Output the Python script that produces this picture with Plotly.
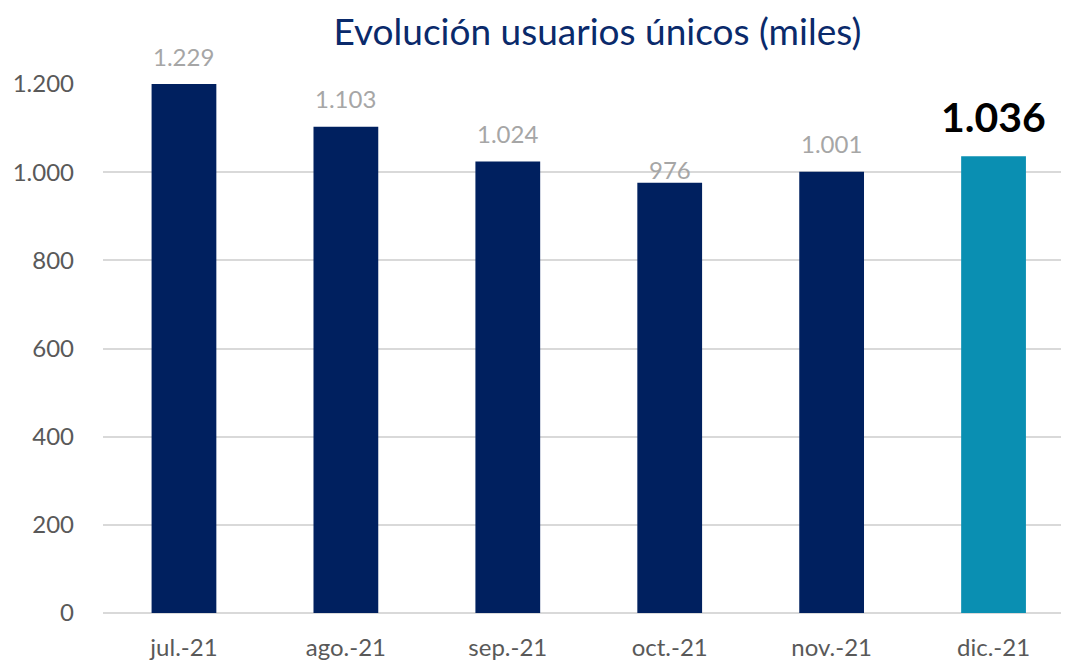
import plotly.graph_objects as go

categories = ["jul.-21", "ago.-21", "sep.-21", "oct.-21", "nov.-21", "dic.-21"]
values = [1229, 1103, 1024, 976, 1001, 1036]
labels = ["1.229", "1.103", "1.024", "976", "1.001", "1.036"]
y_ticks = [0, 200, 400, 600, 800, 1000, 1200]
y_tick_text = ["0", "200", "400", "600", "800", "1.000", "1.200"]

NAVY = "#00205F"
TEAL = "#0A8FB2"
colors = [NAVY] * 5 + [TEAL]
Y_MAX = 1200
FONT = "Lato"
W, H = 1061, 653  # page body has an 8px margin

fig = go.Figure()
fig.add_trace(go.Bar(
    x=list(range(len(categories))),
    y=values,
    marker=dict(color=colors, line=dict(width=0)),
    width=0.40,
    hoverinfo="skip",
))

for i, (v, t) in enumerate(zip(values, labels)):
    last = i == len(values) - 1
    shift = 40 if last else (13 if v < 1000 else 28)
    fig.add_annotation(
        x=i, y=min(v, Y_MAX), xref="x", yref="y",
        text=f"<b>{t}</b>" if last else t,
        showarrow=False, yanchor="middle", yshift=shift,
        font=dict(family=FONT, size=41 if last else 24,
                  color="#000000" if last else "#A6A6A6"),
    )

fig.update_layout(
    width=W, height=H,
    margin=dict(l=94.5, r=0, t=76, b=43),
    paper_bgcolor="white", plot_bgcolor="white",
    showlegend=False,
    title=dict(text="Evolución usuarios únicos (miles)", x=543 / W, xanchor="center",
               y=1 - 24 / H, yanchor="middle", xref="paper",
               font=dict(family=FONT, size=37, color="#0A2A6B")),
    xaxis=dict(range=[-0.5, 5.466], tickvals=list(range(len(categories))), ticktext=categories,
               showgrid=False, zeroline=False, showline=False, ticks="",
               ticklabelstandoff=18,
               tickfont=dict(family=FONT, size=24, color="#595959")),
    yaxis=dict(range=[0, Y_MAX], tickvals=y_ticks, ticktext=y_tick_text,
               showgrid=True, gridcolor="#D9D9D9", gridwidth=1.5,
               zeroline=True, zerolinecolor="#D9D9D9", zerolinewidth=1.5,
               showline=False, ticks="", ticklabelstandoff=28,
               tickfont=dict(family=FONT, size=24, color="#595959")),
)

fig.write_html("out.html")
